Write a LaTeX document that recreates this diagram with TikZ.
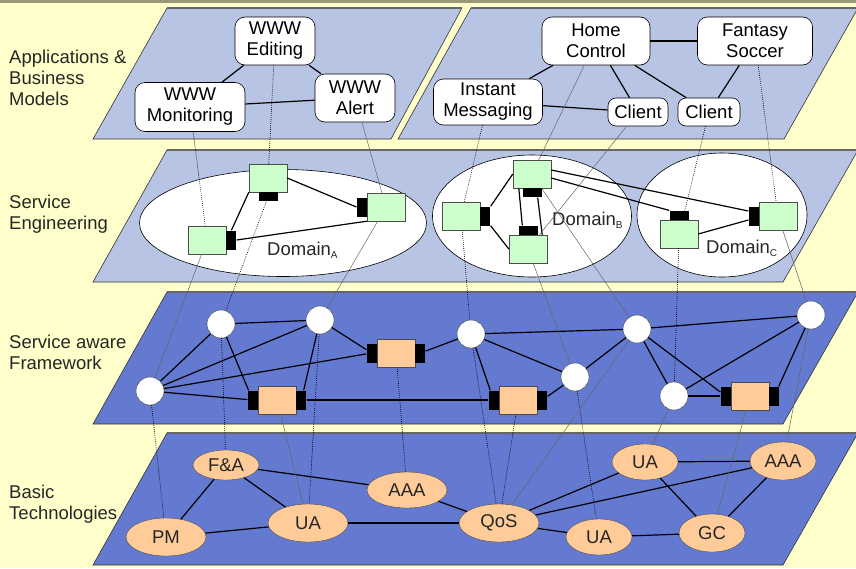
\documentclass[tikz,border=0pt]{standalone}
\usepackage{fontspec}
\setmainfont{Liberation Sans}
\usetikzlibrary{shapes.geometric}

\definecolor{paper}{RGB}{255,255,204}
\definecolor{rim}{RGB}{153,153,119}
\definecolor{toplayer}{RGB}{184,196,228}
\definecolor{lowlayer}{RGB}{100,122,208}
\definecolor{svcgreen}{RGB}{204,255,204}
\definecolor{tecorange}{RGB}{255,204,153}

\tikzset{
  plane/.style={fill=#1, draw=black!80, line width=0.6pt},
  planetop/.style={draw=black!60, line width=1.6pt},
  lbl/.style={anchor=west, align=left, inner sep=0pt, text=black!85},
  app/.style={draw, fill=white, rounded corners=10pt, align=center, inner sep=0pt, line width=0.6pt},
  domoval/.style={ellipse, draw, fill=white, inner sep=0pt, line width=0.6pt},
  dlabel/.style={anchor=base west, inner sep=0pt, text=black!85},
  svc/.style={draw=black!70, fill=svcgreen, minimum width=38pt, minimum height=28pt, inner sep=0pt},
  fw/.style={draw=black!70, fill=tecorange, minimum width=38pt, minimum height=28pt, inner sep=0pt},
  hport/.style={fill=black, inner sep=0pt, minimum width=19pt, minimum height=9pt},
  vport/.style={fill=black, inner sep=0pt, minimum width=10pt, minimum height=19pt},
  hub/.style={circle, draw=black!75, fill=white, minimum size=28pt, inner sep=0pt},
  tech/.style={ellipse, draw=black!70, fill=tecorange, inner sep=0pt, text=black!85},
  edge/.style={line width=1.2pt},
  dotlink/.style={black, line width=0.6pt, dash pattern=on 0.8pt off 1.2pt},
  greylink/.style={black!60, line width=0.5pt},
}

\newcommand{\dom}[1]{Domain\raisebox{-3pt}{\fontsize{10}{10}\selectfont #1}}

\begin{document}
\begin{tikzpicture}[x=1pt,y=-1pt,font=\fontsize{18.5}{21}\selectfont]
        %% background
        \clip (0,0) rectangle (856,568);
        \fill[paper] (0,0) rectangle (856,568);
        \fill[rim] (0,0) rectangle (856,2.5);

        %% planes
        \filldraw[plane=toplayer] (167,8) -- (462,8) -- (391,139) -- (93,139) -- cycle;
        \filldraw[plane=toplayer] (471,8) -- (858,8) -- (784,139) -- (398,139) -- cycle;
        \foreach \t/\c in {150/toplayer,292/lowlayer,433/lowlayer}
          \filldraw[plane=\c] (167,\t) -- (858,\t) -- (783,\t+132) -- (93,\t+132) -- cycle;
        \draw[planetop] (167,8) -- (462,8);
        \draw[planetop] (471,8) -- (858,8);
        \foreach \t in {150,292,433}
          \draw[planetop] (167,\t) -- (858,\t);

        %% layer names
        \node[lbl] (lapp) at (9,78) {Applications \&\\Business\\Models};
        \node[lbl] (leng) at (9,214) {Service\\Engineering};
        \node[lbl] (lfw) at (9,352) {Service aware\\Framework};
        \node[lbl] (ltech) at (9,504) {Basic\\Technologies};

        %% applications
        \node[app, minimum width=80pt, minimum height=48pt] (edit) at (275,41) {WWW\\Editing};
        \node[app, minimum width=110pt, minimum height=49pt] (monit) at (190,107) {WWW\\Monitoring};
        \node[app, minimum width=80pt, minimum height=48pt] (alert) at (355,98) {WWW\\Alert};
        \node[app, minimum width=108pt, minimum height=48pt] (home) at (596,41) {Home\\Control};
        \node[app, minimum width=115pt, minimum height=48pt] (soccer) at (755,41) {Fantasy\\Soccer};
        \node[app, minimum width=109pt, minimum height=46pt] (instmsg) at (488,102) {Instant\\Messaging};
        \node[app, minimum width=60pt, minimum height=28pt, rounded corners=8pt] (clienta) at (638,112) {Client};
        \node[app, minimum width=62pt, minimum height=28pt, rounded corners=8pt] (clientb) at (709,112) {Client};

        %% domains
        \node[domoval, minimum width=287pt, minimum height=107pt] (doma) at (283,223) {};
        \node[domoval, minimum width=199pt, minimum height=122pt] (domb) at (532,216) {};
        \node[domoval, minimum width=170pt, minimum height=124pt] (domc) at (722,215) {};
        \node[dlabel] (lda) at (267,255) {\dom{A}};
        \node[dlabel] (ldb) at (552,225) {\dom{B}};
        \node[dlabel] (ldc) at (706,253) {\dom{C}};

        %% services
        \node[svc] (sa1) at (268,178) {};
        \node[hport, anchor=north] (sa1p) at (sa1.south) {};
        \node[svc] (sa2) at (386,207) {};
        \node[vport, anchor=east] (sa2p) at (sa2.west) {};
        \node[svc] (sa3) at (207,240) {};
        \node[vport, anchor=west] (sa3p) at (sa3.east) {};
        \node[svc] (sb1) at (532,174) {};
        \node[hport, anchor=north] (sb1p) at (sb1.south) {};
        \node[svc] (sb2) at (461,216) {};
        \node[vport, anchor=west] (sb2p) at (sb2.east) {};
        \node[svc] (sb3) at (528,249) {};
        \node[hport, anchor=south] (sb3p) at (sb3.north) {};
        \node[svc] (sc1) at (679,234) {};
        \node[hport, anchor=south] (sc1p) at (sc1.north) {};
        \node[svc] (sc2) at (778,216) {};
        \node[vport, anchor=east] (sc2p) at (sc2.west) {};

        %% framework
        \node[hub] (h1) at (221,324) {};
        \node[hub] (h2) at (320,320) {};
        \node[hub] (h3) at (150,391) {};
        \node[hub] (h4) at (471,334) {};
        \node[hub] (h5) at (575,377) {};
        \node[hub] (h6) at (637,329) {};
        \node[hub] (h7) at (674,396) {};
        \node[hub] (h8) at (811,315) {};
        \node[fw] (fa) at (277,400) {};
        \node[vport, anchor=east] (fal) at (fa.west) {};
        \node[vport, anchor=west] (far) at (fa.east) {};
        \node[fw] (fb) at (396,353) {};
        \node[vport, anchor=east] (fbl) at (fb.west) {};
        \node[vport, anchor=west] (fbr) at (fb.east) {};
        \node[fw] (fc) at (518,400) {};
        \node[vport, anchor=east] (fcl) at (fc.west) {};
        \node[vport, anchor=west] (fcr) at (fc.east) {};
        \node[fw] (fd) at (750,396) {};
        \node[vport, anchor=east] (fdl) at (fd.west) {};
        \node[vport, anchor=west] (fdr) at (fd.east) {};

        %% technologies
        \node[tech, minimum width=66pt, minimum height=30pt] (fna) at (226,465) {F\&A};
        \node[tech, minimum width=80pt, minimum height=38pt] (pm) at (166,537) {PM};
        \node[tech, minimum width=80pt, minimum height=38pt] (uaa) at (308,523) {UA};
        \node[tech, minimum width=80pt, minimum height=36pt] (aaaa) at (407,490) {AAA};
        \node[tech, minimum width=80pt, minimum height=38pt] (qos) at (499,523) {QoS};
        \node[tech, minimum width=66pt, minimum height=36pt] (uab) at (599,537) {UA};
        \node[tech, minimum width=66pt, minimum height=36pt] (uac) at (645,462) {UA};
        \node[tech, minimum width=66pt, minimum height=38pt] (aaab) at (783,461) {AAA};
        \node[tech, minimum width=66pt, minimum height=38pt] (gc) at (712,533) {GC};

        %% links inside the planes
        \draw[edge] (edit) -- (monit);
        \draw[edge] (edit) -- (alert);
        \draw[edge] (monit) -- (alert);
        \draw[edge] (home) -- (soccer);
        \draw[edge] (home) -- (instmsg);
        \draw[edge] (home) -- (clienta);
        \draw[edge] (home) -- (clientb);
        \draw[edge] (instmsg) -- (clienta);
        \draw[edge] (soccer) -- (clientb);

        \draw[edge] (sa1.south west) -- (sa3p.north);
        \draw[edge] (sa1.east) -- (sa2p.west);
        \draw[edge] (sa3p.east) -- (sa2.south west);
        \draw[edge] (sb2p.north east) -- (sb1.west);
        \draw[edge] (sb2p.south east) -- (sb3.west);
        \draw[edge] ([xshift=6pt]sb1.south west) -- ([xshift=4pt]sb3p.north west);
        \draw[edge] ([xshift=-4pt]sb1p.south east) -- ([xshift=-5pt]sb3.north east);
        \draw[edge] ([yshift=4pt]sb1.east) -- ([yshift=5pt]sc2p.west);
        \draw[edge] ([yshift=-4pt]sb1.east) -- (sc1p.north west);
        \draw[edge] (sc1.east) -- ([yshift=-4pt]sc2p.west);

        \foreach \a/\b in {h3/h1,h3/h2,h3/fbl,h3/fal,h1/h2,h1/fal,h2/far,h2/fbl,
                           far/fcl,fbr/h4,h4/h6,h4/h5,h4/fcl,fcr/h5,h5/h6,h6/h8,
                           h6/h7,h6/fdl,h7/h8,h7/fdl,fdr/h8}
          \draw[edge] (\a) -- (\b);

        \foreach \a/\b in {fna/pm,fna/uaa,fna/aaaa,pm/uaa,uaa/qos,aaaa/qos,qos/uab,
                           qos/uac,qos/aaab,uab/gc,uac/gc,uac/aaab,aaab/gc}
          \draw[edge] (\a) -- (\b);

        %% links between the planes
        \foreach \a/\b in {monit/sa3,edit/sa1,instmsg/sb2,clientb/sc1,soccer/sc2,
                           sa1p/h1,sb2/h4,sc1/h7,
                           h3/pm,h1/fna,h2/uaa,fb/aaaa,h4/qos,fc/qos,h5/uab}
          \draw[dotlink] (\a) -- (\b);
        \foreach \a/\b in {alert/sa2,home/sb1,clienta/sb3,
                           sa3/h3,sa2/h2,sb3/h5,sb1/h6,sc2/h8,
                           fa/uaa,h6/qos,h7/uac,fd/gc,h8/aaab}
          \draw[greylink] (\a) -- (\b);
\end{tikzpicture}
\end{document}
